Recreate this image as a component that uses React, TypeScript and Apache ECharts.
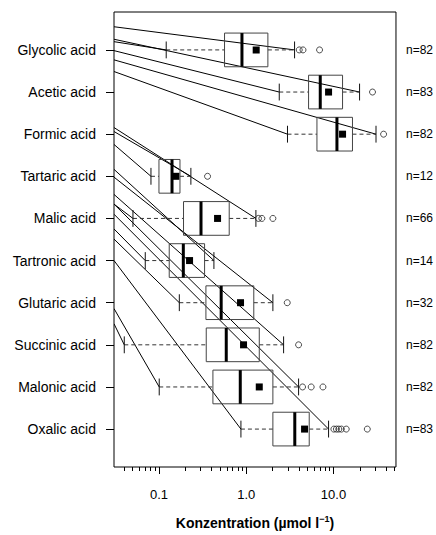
import React, { useEffect, useRef } from "react";
import * as echarts from "echarts";

const categories = [
  "Glycolic acid", "Acetic acid", "Formic acid", "Tartaric acid", "Malic acid",
  "Tartronic acid", "Glutaric acid", "Succinic acid", "Malonic acid", "Oxalic acid",
];
const counts = [82, 83, 82, 12, 66, 14, 32, 82, 82, 83];
const whiskerLow = [0.121, 2.39, 2.97, 0.0809, 0.0503, 0.0696, 0.171, 0.040, 0.1006, 0.869];
const q1 = [0.564, 5.18, 6.46, 0.0999, 0.191, 0.131, 0.345, 0.348, 0.415, 2.02];
const medians = [0.893, 7.05, 10.95, 0.141, 0.303, 0.19, 0.516, 0.59, 0.854, 3.6];
const q3 = [1.77, 12.7, 16.5, 0.174, 0.638, 0.333, 1.22, 1.41, 2.02, 5.27];
const whiskerHigh = [3.58, 19.9, 30.7, 0.232, 1.29, 0.426, 2.02, 2.68, 3.98, 8.78];
const means = [1.3, 8.78, 12.7, 0.156, 0.469, 0.224, 0.86, 0.931, 1.41, 4.66];
const outliers = [
  [4.05, 4.47, 6.92],
  [28.0],
  [37.5],
  [0.36],
  [1.38, 1.51, 2.02],
  [],
  [2.95],
  [3.98],
  [4.42, 5.55, 7.57],
  [10.1, 10.8, 11.5, 12.3, 14.0, 24.4],
];
// y position (in category units) where the connector lines leave the left frame
const leaderUpperStart = [-0.55, -0.253, 0.236, 1.937, 1.843, 2.835, 3.02, 3.43, 3.66, 3.9];
const leaderLowerStart = [-0.196, 0.017, 0.513, 2.244, 3.66, 4.25, 4.49, 6.5, 6.14, 5.0];

const majorTicks = [0.1, 1, 10];
const majorLabels = ["0.1", "1.0", "10.0"];
const minorTicks = [
  0.04, 0.05, 0.06, 0.07, 0.08, 0.09,
  0.2, 0.3, 0.4, 0.5, 0.6, 0.7, 0.8, 0.9,
  2, 3, 4, 5, 6, 7, 8, 9,
  20, 30, 40, 50,
];

const X_MIN = 0.0305;
const X_MAX = 52;
const FONT = "'Liberation Sans', Arial, Helvetica, sans-serif";

export default function App() {
  const ref = useRef<HTMLDivElement>(null);
  useEffect(() => {
    if (!ref.current) return;
    const chart = echarts.init(ref.current, undefined, { renderer: "svg" });

    const boxData = categories.map((_, i) => [
      i, whiskerLow[i], q1[i], medians[i], q3[i], whiskerHigh[i], means[i],
    ]);
    const outlierData: number[][] = [];
    outliers.forEach((arr, i) => arr.forEach((v) => outlierData.push([v, i])));
    const leaderData: number[][] = [];
    categories.forEach((_, i) => {
      leaderData.push([leaderUpperStart[i], whiskerHigh[i], i]);
      leaderData.push([leaderLowerStart[i], whiskerLow[i], i]);
    });

    const yBase = {
      type: "value" as const,
      inverse: true,
      min: -0.9,
      max: 9.9,
      splitLine: { show: false },
      axisLine: { show: false, onZero: false },
    };
    const xBase = {
      type: "log" as const,
      logBase: 10,
      min: X_MIN,
      max: X_MAX,
      position: "bottom" as const,
      splitLine: { show: false },
      axisLine: { show: false, onZero: false },
    };

    chart.setOption({
      animation: false,
      backgroundColor: "#fff",
      grid: {
        left: 114, right: 40, top: 12, bottom: 67,
        show: true, borderColor: "#000", borderWidth: 1, backgroundColor: "transparent",
      },
      xAxis: [
        {
          ...xBase,
          axisTick: { show: true, length: 7, customValues: majorTicks, lineStyle: { color: "#000" } },
          axisLabel: {
            show: true,
            customValues: majorTicks,
            margin: 21,
            fontSize: 13,
            fontFamily: FONT,
            color: "#000",
            formatter: (v: number) => {
              const k = majorTicks.findIndex((t) => Math.abs(t - v) / t < 1e-6);
              return k >= 0 ? majorLabels[k] : "";
            },
          },
          name: "{a|Konzentration (µmol l}{b|−1}{a|)}",
          nameLocation: "middle",
          nameGap: 47,
          nameTextStyle: {
            rich: {
              a: { fontSize: 14, fontWeight: "bold", fontFamily: FONT, color: "#000", lineHeight: 18 },
              b: { fontSize: 9, fontWeight: "bold", fontFamily: FONT, color: "#000", verticalAlign: "top", lineHeight: 18 },
            },
          },
        },
        {
          ...xBase,
          axisTick: { show: true, length: 4, customValues: minorTicks, lineStyle: { color: "#000" } },
          axisLabel: { show: false },
        },
      ],
      yAxis: [
        {
          ...yBase,
          position: "left",
          axisTick: { show: true, length: 8, customValues: categories.map((_, i) => i), lineStyle: { color: "#000" } },
          axisLabel: {
            customValues: categories.map((_, i) => i),
            margin: 18,
            fontSize: 14,
            fontFamily: FONT,
            color: "#000",
            formatter: (v: number) => categories[Math.round(v)] ?? "",
          },
        },
        {
          ...yBase,
          position: "right",
          axisTick: { show: false },
          axisLabel: {
            customValues: categories.map((_, i) => i),
            margin: 10,
            fontSize: 12,
            fontFamily: FONT,
            color: "#000",
            formatter: (v: number) => {
              const n = counts[Math.round(v)];
              return n === undefined ? "" : "n=" + n;
            },
          },
        },
      ],
      series: [
        {
          type: "custom",
          xAxisIndex: 0,
          yAxisIndex: 0,
          clip: true,
          data: leaderData,
          encode: { x: 1, y: [0, 2] },
          renderItem: (params: any, api: any) => {
            const p0 = api.coord([X_MIN, api.value(0)]);
            const p1 = api.coord([api.value(1), api.value(2)]);
            return {
              type: "line",
              shape: { x1: p0[0], y1: p0[1], x2: p1[0], y2: p1[1] },
              style: { stroke: "#000", lineWidth: 1 },
            };
          },
        },
        {
          type: "custom",
          xAxisIndex: 0,
          yAxisIndex: 0,
          data: boxData,
          encode: { x: [1, 2, 3, 4, 5, 6], y: 0 },
          renderItem: (params: any, api: any) => {
            const i = api.value(0);
            const lo = api.coord([api.value(1), i]);
            const a = api.coord([api.value(2), i]);
            const m = api.coord([api.value(3), i]);
            const b = api.coord([api.value(4), i]);
            const hi = api.coord([api.value(5), i]);
            const mn = api.coord([api.value(6), i]);
            const yTop = api.coord([api.value(3), i - 0.4])[1];
            const yBot = api.coord([api.value(3), i + 0.4])[1];
            const cTop = api.coord([api.value(3), i - 0.2])[1];
            const cBot = api.coord([api.value(3), i + 0.2])[1];
            const y = m[1];
            const dash = { stroke: "#333", lineWidth: 1, lineDash: [4, 3] };
            const solid = { stroke: "#111", lineWidth: 1 };
            return {
              type: "group",
              children: [
                { type: "line", shape: { x1: lo[0], y1: y, x2: a[0], y2: y }, style: dash },
                { type: "line", shape: { x1: b[0], y1: y, x2: hi[0], y2: y }, style: dash },
                { type: "line", shape: { x1: lo[0], y1: cTop, x2: lo[0], y2: cBot }, style: solid },
                { type: "line", shape: { x1: hi[0], y1: cTop, x2: hi[0], y2: cBot }, style: solid },
                {
                  type: "rect",
                  shape: { x: a[0], y: yTop, width: b[0] - a[0], height: yBot - yTop },
                  style: { fill: "none", stroke: "#444", lineWidth: 1 },
                },
                { type: "line", shape: { x1: m[0], y1: yTop, x2: m[0], y2: yBot }, style: { stroke: "#000", lineWidth: 3 } },
                { type: "rect", shape: { x: mn[0] - 3.5, y: y - 3.5, width: 7, height: 7 }, style: { fill: "#000" } },
              ],
            };
          },
        },
        {
          type: "scatter",
          xAxisIndex: 0,
          yAxisIndex: 0,
          data: outlierData,
          symbol: "circle",
          symbolSize: 6,
          itemStyle: { color: "transparent", borderColor: "#222", borderWidth: 1 },
          emphasis: { disabled: true },
        },
      ],
    });
    return () => chart.dispose();
  }, []);
  return (
    <div
      ref={ref}
      style={{ position: "fixed", left: 0, top: 0, width: 436, height: 535 }}
    />
  );
}
